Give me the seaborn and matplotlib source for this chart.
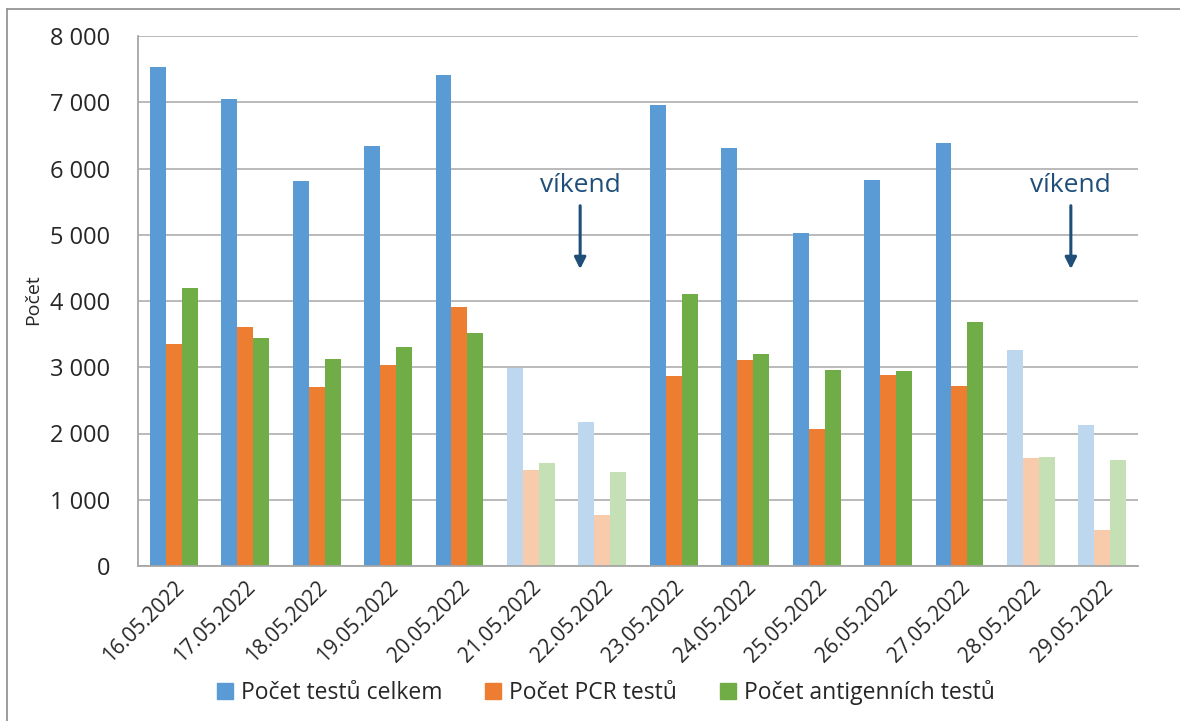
import matplotlib
matplotlib.use("Agg")
import matplotlib.pyplot as plt
import seaborn as sns
import pandas as pd
from matplotlib.lines import Line2D

# ==========================================================
# DADOS
# ==========================================================

datumy = [
    "16.05.2022", "17.05.2022", "18.05.2022", "19.05.2022", "20.05.2022",
    "21.05.2022", "22.05.2022", "23.05.2022", "24.05.2022", "25.05.2022",
    "26.05.2022", "27.05.2022", "28.05.2022", "29.05.2022"
]

testy_celkem = [7530, 7050, 5810, 6340, 7410, 2990, 2175,
                6960, 6310, 5030, 5830, 6385, 3260, 2130]
testy_pcr = [3350, 3607, 2700, 3035, 3910, 1450, 770,
             2870, 3110, 2070, 2890, 2715, 1635, 545]
testy_ag = [4195, 3440, 3125, 3305, 3517, 1555, 1420,
            4105, 3205, 2960, 2945, 3680, 1645, 1600]

serie = ["Počet testů celkem", "Počet PCR testů", "Počet antigenních testů"]
vikendy = ["21.05.2022", "22.05.2022", "28.05.2022", "29.05.2022"]

barvy = ["#5B9BD5", "#ED7D31", "#70AD47"]
barvy_svetle = ["#BDD7EE", "#F8CBAD", "#C5E0B4"]

df = pd.DataFrame({
    "Datum": datumy * 3,
    "Serie": [s for s in serie for _ in datumy],
    "Pocet": testy_celkem + testy_pcr + testy_ag,
})

# ==========================================================
# GRAFICO
# ==========================================================

sns.set_style("white")
plt.rcParams["font.family"] = ["Open Sans", "DejaVu Sans"]

fig = plt.figure(figsize=(11.8, 7.21), dpi=100)
ax = fig.add_axes([138 / 1180, 1 - 566 / 721, 1000 / 1180, 530 / 721])

sns.barplot(
    data=df,
    x="Datum",
    y="Pocet",
    hue="Serie",
    order=datumy,
    hue_order=serie,
    palette=barvy,
    saturation=1,
    width=0.67,
    linewidth=0,
    legend=False,
    ax=ax
)

# svetlejsi barvy pro vikendy
for j, kont in enumerate(ax.containers):
    for i, bar in enumerate(kont):
        if datumy[i] in vikendy:
            bar.set_facecolor(barvy_svetle[j])

ax.set_ylim(0, 8000)
ax.set_xlim(-0.5, len(datumy) - 0.5)
ax.set_yticks(range(0, 8001, 1000))
ax.set_yticklabels([f"{v:,}".replace(",", " ") for v in range(0, 8001, 1000)],
                   fontsize=17)
ax.yaxis.grid(True, color="#B4B4B4", linewidth=1.3)
ax.set_axisbelow(True)

ax.set_xticks(range(len(datumy)))
ax.set_xticklabels(datumy, rotation=45, ha="right", rotation_mode="anchor",
                   fontsize=15)
ax.set_xticks([i - 0.5 for i in range(len(datumy) + 1)], minor=True)
ax.tick_params(axis="x", which="major", length=0, pad=8)
ax.tick_params(axis="x", which="minor", length=6, color="#A6A6A6", width=1)
ax.tick_params(axis="y", length=8, color="#A6A6A6", width=1, pad=12)

for s in ["top", "right"]:
    ax.spines[s].set_visible(False)
for s in ["left", "bottom"]:
    ax.spines[s].set_color("#A6A6A6")
    ax.spines[s].set_linewidth(1.3)

ax.set_xlabel("")
ax.set_ylabel("")
fig.text(33 / 1180, 1 - 300 / 721, "Počet", rotation=90, ha="center",
         va="center", fontsize=14)

# anotace vikend
for x in [5.69, 12.56]:
    ax.text(x, 5750, "víkend", ha="center", va="center",
            fontsize=19, color="#1F4E79")
    ax.annotate("", xy=(x, 4440), xytext=(x, 5480),
                arrowprops=dict(arrowstyle="-|>", color="#1F4E79",
                                lw=2.2, mutation_scale=17))

# legenda
handles = [Line2D([], [], marker="s", linestyle="", markersize=12,
                  markerfacecolor=c, markeredgecolor=c) for c in barvy]
fig.legend(handles, serie, loc="center", bbox_to_anchor=(0.511, 0.04),
           ncol=3, frameon=False, handletextpad=0.1, columnspacing=1.6,
           handlelength=1.2, prop={"size": 16.5})

# ramecek
fig.add_artist(Line2D([7 / 1180, 7 / 1180], [0, 1 - 9 / 721],
                      color="#8C8C8C", linewidth=1.2))
fig.add_artist(Line2D([7 / 1180, 1], [1 - 9 / 721, 1 - 9 / 721],
                      color="#8C8C8C", linewidth=1.2))

fig.savefig("out.png", dpi=100)
